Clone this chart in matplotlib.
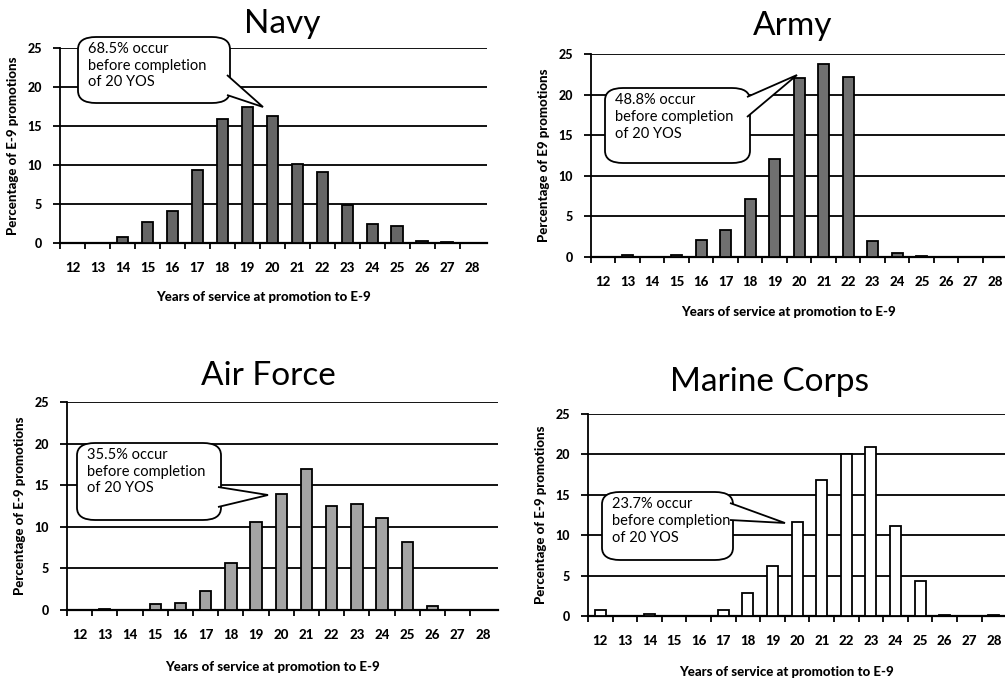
import matplotlib.pyplot as plt
from matplotlib.patches import FancyBboxPatch, Polygon

plt.rcParams['font.family'] = ['Lato', 'DejaVu Sans']

years = list(range(12, 29))
year_labels = [str(y) for y in years]

navy = [0, 0, 0.8, 2.7, 4.1, 9.3, 15.9, 17.5, 16.3, 10.1, 9.1, 4.9, 2.5, 2.2, 0.3, 0.1, 0.05]
army = [0, 0.3, 0, 0.3, 2.1, 3.3, 7.2, 12.1, 22.0, 23.8, 22.2, 2.0, 0.5, 0.15, 0.05, 0.05, 0]
air_force = [0, 0.1, 0, 0.7, 0.8, 2.3, 5.6, 10.6, 14.0, 16.9, 12.5, 12.8, 11.0, 8.2, 0.5, 0, 0]
marine = [0.7, 0, 0.2, 0, 0, 0.8, 2.8, 6.2, 11.6, 16.8, 20.1, 20.9, 11.2, 4.3, 0.1, 0, 0.1]

y_ticks = [0, 5, 10, 15, 20, 25]
y_labels = [str(v) for v in y_ticks]

W, H = 1005, 681
fig = plt.figure(figsize=(W / 100, H / 100), dpi=100)


def px_axes(left, right, top, bottom):
    # pixel box (y measured from top) -> figure fraction
    return fig.add_axes([left / W, 1 - bottom / H, (right - left) / W, (bottom - top) / H])


def fpt(x, y):
    return (x / W, 1 - y / H)


def callout(text, box, tip, base):
    # box = (x0, y0, x1, y1) in pixels, tip = (x, y), base = two points on the box edge
    x0, y0, x1, y1 = box
    bx, by = fpt(x0, y1)
    bw, bh = (x1 - x0) / W, (y1 - y0) / H
    fig.patches.append(FancyBboxPatch((bx, by), bw, bh,
                                      boxstyle='round,pad=0,rounding_size=0.018',
                                      transform=fig.transFigure, fc='white',
                                      ec='black', lw=1.3, zorder=10))
    pts = [fpt(*base[0]), fpt(*tip), fpt(*base[1])]
    fig.patches.append(Polygon(pts, closed=False, transform=fig.transFigure,
                               fc='white', ec='black', lw=1.3, zorder=11))
    fig.text(*fpt(x0 + 10, y0 + 5), text, ha='left', va='top', fontsize=10.5,
             linespacing=1.25, zorder=12)


def panel(pos, xlim, values, color, title, title_xy, ylabel, xlabel_y):
    ax = px_axes(*pos)
    ax.bar(years, values, width=0.45, color=color, edgecolor='black', lw=1.3, zorder=3)
    ax.set_xlim(*xlim)
    ax.set_ylim(0, 25)
    ax.set_yticks(y_ticks)
    ax.set_yticklabels(y_labels, fontsize=9, fontweight='black')
    ax.yaxis.grid(True, color='black', lw=1.3)
    ax.set_axisbelow(True)
    ax.set_xticks(years)
    ax.set_xticklabels(year_labels, fontsize=9.5, fontweight='black')
    ax.set_xticks([y + 0.5 for y in years[:-1]] + [years[0] - 0.5], minor=True)
    ax.tick_params(axis='x', which='major', length=0, pad=14)
    ax.tick_params(axis='x', which='minor', length=4, width=1.3, direction='out')
    ax.tick_params(axis='y', length=5, width=1.3, pad=8)
    for s in ['top', 'right']:
        ax.spines[s].set_visible(False)
    ax.spines['left'].set_linewidth(1.3)
    ax.spines['bottom'].set_linewidth(1.6)
    ax.set_ylabel(ylabel, fontsize=9.5, fontweight='black', labelpad=6)
    fig.text(*fpt(*title_xy), title, ha='center', va='center', fontsize=24)
    fig.text(*fpt((pos[0] + pos[1]) / 2 - 10, xlabel_y), 'Years of service at promotion to E-9',
             ha='center', va='center', fontsize=9.5, fontweight='black')
    return ax


panel((60, 487, 48, 243), (11.64, 28.6), navy, '#666666', 'Navy', (282, 24),
      'Percentage of E-9 promotions', 297)
panel((591, 1005, 54, 257), (11.56, 28.4), army, '#707070', 'Army', (793, 26),
      'Percentage of E9 promotions', 312)
panel((67, 498, 402, 610), (11.57, 28.6), air_force, '#a4a4a4', 'Air Force', (268, 376),
      'Percentage of E-9 promotions', 667)
panel((588, 1005, 414, 616), (11.52, 28.45), marine, 'white', 'Marine Corps', (770, 382),
      'Percentage of E-9 promotions', 672)

callout('68.5% occur\nbefore completion\nof 20 YOS', (78, 37, 230, 103), (263, 107),
        [(227, 75), (227, 95)])
callout('48.8% occur\nbefore completion\nof 20 YOS', (605, 88, 750, 163), (797, 75),
        [(747, 97), (747, 117)])
callout('35.5% occur\nbefore completion\nof 20 YOS', (77, 443, 221, 520), (268, 495),
        [(218, 487), (218, 507)])
callout('23.7% occur\nbefore completion\nof 20 YOS', (602, 492, 733, 560), (785, 523),
        [(730, 503), (730, 520)])

fig.savefig('out.png', dpi=100)
